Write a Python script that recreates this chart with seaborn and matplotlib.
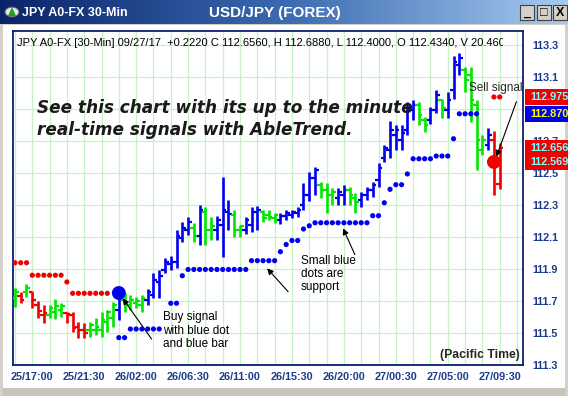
import numpy as np
import pandas as pd
import matplotlib
matplotlib.use("Agg")
import matplotlib.pyplot as plt
import seaborn as sns
from matplotlib.patches import Rectangle, Circle, Polygon
from matplotlib.colors import LinearSegmentedColormap
from matplotlib.transforms import Bbox

# ---- data: 30-min USD/JPY bars, bar 0 = 25/17:00 ----
bar_idx = list(range(-3, 82))
trend = ("GRGRRRGGGRRRR" "GGGGGBGGGG" "BBBBBBBBGB" "GGBBBGGBBB" "GGGBBBBBBB"
         "GGGBBGGBBB" "BBBBBBBGGB" "BGBBBGGGGB" "RR")
highs = [111.781, 111.756, 111.806, 111.763, 111.700, 111.675, 111.675, 111.713, 111.688, 111.631,
         111.631, 111.569, 111.563, 111.569, 111.594, 111.631, 111.644, 111.694, 111.750, 111.750,
         111.738, 111.725, 111.738, 111.775, 111.875, 111.894, 111.969, 111.981, 112.144, 112.194,
         112.225, 112.188, 112.300, 112.288, 112.225, 112.231, 112.475, 112.331, 112.269, 112.175,
         112.225, 112.288, 112.294, 112.269, 112.269, 112.250, 112.250, 112.269, 112.269, 112.288,
         112.438, 112.506, 112.538, 112.444, 112.438, 112.406, 112.406, 112.425, 112.413, 112.375,
         112.381, 112.413, 112.444, 112.563, 112.675, 112.825, 112.800, 112.800, 112.944, 112.956,
         112.944, 112.850, 112.913, 113.019, 112.963, 113.006, 113.231, 113.250, 113.163, 113.163,
         112.956, 112.738, 112.781, 112.763, 112.688]
lows = [111.663, 111.688, 111.725, 111.656, 111.594, 111.563, 111.594, 111.588, 111.600, 111.563,
        111.506, 111.469, 111.469, 111.475, 111.488, 111.475, 111.506, 111.538, 111.581, 111.631,
        111.644, 111.656, 111.631, 111.675, 111.719, 111.719, 111.875, 111.894, 111.906, 112.069,
        112.113, 112.069, 112.050, 112.050, 112.081, 112.081, 111.975, 112.144, 112.100, 112.100,
        112.119, 112.131, 112.144, 112.194, 112.206, 112.188, 112.181, 112.206, 112.219, 112.225,
        112.269, 112.325, 112.363, 112.344, 112.250, 112.300, 112.300, 112.300, 112.300, 112.250,
        112.288, 112.331, 112.350, 112.413, 112.569, 112.594, 112.644, 112.644, 112.738, 112.831,
        112.800, 112.756, 112.806, 112.875, 112.844, 112.844, 112.963, 113.113, 113.006, 112.819,
        112.519, 112.613, 112.644, 112.363, 112.400]
opens = [111.719, 111.731, 111.756, 111.756, 111.675, 111.613, 111.613, 111.631, 111.644, 111.625,
         111.613, 111.538, 111.519, 111.519, 111.519, 111.519, 111.569, 111.594, 111.644, 111.706,
         111.675, 111.688, 111.675, 111.706, 111.738, 111.819, 111.894, 111.931, 111.944, 112.094,
         112.144, 112.156, 112.106, 112.256, 112.144, 112.144, 112.175, 112.256, 112.238, 112.144,
         112.144, 112.175, 112.256, 112.256, 112.238, 112.219, 112.206, 112.231, 112.238, 112.250,
         112.300, 112.363, 112.469, 112.425, 112.394, 112.363, 112.344, 112.363, 112.394, 112.344,
         112.331, 112.363, 112.394, 112.456, 112.594, 112.644, 112.738, 112.706, 112.769, 112.894,
         112.925, 112.831, 112.831, 112.894, 112.956, 112.894, 113.019, 113.175, 113.144, 113.113,
         112.925, 112.644, 112.675, 112.706, 112.434]
closes = [111.756, 111.706, 111.781, 111.706, 111.638, 111.625, 111.656, 111.669, 111.669, 111.619,
          111.531, 111.519, 111.500, 111.550, 111.538, 111.581, 111.631, 111.675, 111.738, 111.688,
          111.706, 111.700, 111.719, 111.756, 111.831, 111.856, 111.944, 111.944, 112.106, 112.156,
          112.194, 112.106, 112.269, 112.144, 112.169, 112.206, 112.269, 112.244, 112.144, 112.169,
          112.206, 112.256, 112.269, 112.219, 112.225, 112.238, 112.231, 112.250, 112.256, 112.269,
          112.363, 112.469, 112.519, 112.394, 112.363, 112.381, 112.381, 112.394, 112.363, 112.319,
          112.363, 112.394, 112.425, 112.531, 112.656, 112.769, 112.769, 112.750, 112.894, 112.925,
          112.863, 112.800, 112.894, 112.988, 112.906, 112.956, 113.194, 113.219, 113.081, 112.956,
          112.706, 112.706, 112.738, 112.550, 112.656]

# resistance (red) and support (blue) dots
res_idx = [-3, -2, -1, 0, 1, 2, 3, 4, 5, 6, 7, 8, 9, 10, 11, 12, 13, 80, 81]
res_val = [111.939, 111.939, 111.939, 111.861, 111.861, 111.861, 111.861, 111.861, 111.861, 111.819,
           111.748, 111.748, 111.748, 111.748, 111.748, 111.748, 111.748, 112.975, 112.975]
sup_idx = [15, 16, 17, 18, 19, 20, 21, 22, 24, 25, 26,
           27, 28, 29, 30, 31, 32, 33, 34, 35, 36, 37,
           38, 39, 40, 41, 42, 43, 44, 45, 46, 47, 48,
           49, 50, 51, 52, 53, 54, 55, 56, 57, 58,
           59, 60, 61, 62, 63, 64, 65, 66, 67, 68, 69, 70, 71, 72, 73, 74, 75, 76, 77]
sup_val = [111.471, 111.471, 111.525, 111.525, 111.525, 111.525, 111.525, 111.525, 111.686, 111.686, 111.858,
           111.897, 111.897, 111.897, 111.897, 111.897, 111.897, 111.897, 111.897, 111.897, 111.897, 111.897,
           111.952, 111.952, 111.952, 111.952, 111.952, 112.008, 112.053, 112.078, 112.078, 112.150, 112.170,
           112.189, 112.189, 112.189, 112.189, 112.189, 112.189, 112.189, 112.189, 112.189, 112.189,
           112.233, 112.233, 112.314, 112.398, 112.427, 112.427, 112.494, 112.589, 112.589, 112.589, 112.589,
           112.606, 112.606, 112.606, 112.714, 112.870, 112.870, 112.870, 112.870]
signal_idx = [15, 80]
signal_val = [111.750, 112.569]
signal_kind = ["buy", "sell"]

tick_pos = [0, 9, 18, 27, 36, 45, 54, 63, 72, 81]
tick_labels = ["25/17:00", "25/21:30", "26/02:00", "26/06:30", "26/11:00",
               "26/15:30", "26/20:00", "27/00:30", "27/05:00", "27/09:30"]
y_ticks = [111.3, 111.5, 111.7, 111.9, 112.1, 112.3, 112.5, 112.7, 112.9, 113.1, 113.3]
# 112.9 sits fully behind the last-value boxes in the original
y_labels = ["111.3", "111.5", "111.7", "111.9", "112.1", "112.3", "112.5", "112.7", "", "113.1", "113.3"]
last_labels = [112.975, 112.870, 112.656, 112.569]
last_box = ["#f00000", "#0000f0", "#f00000", "#f00000"]
last_text = ["#80ffff", "#ffff00", "#80ffff", "#80ffff"]

colmap = {"G": "#00e600", "R": "#f00000", "B": "#0000f0"}
navy = "#0a1f6e"
lab_blue = "#1c3d8c"

sns.set_style("white")
plt.rcParams["font.family"] = ["Liberation Sans", "DejaVu Sans"]

W, H = 568, 396
fig = plt.figure(figsize=(W / 100, H / 100), dpi=100)
fig.patch.set_facecolor("#d4d0c8")


def fr(x, y, w, h):
    return [x / W, 1 - (y + h) / H, w / W, h / H]


# window body
fig.add_artist(Rectangle((3 / W, 1 - 388 / H), 562 / W, 363 / H, transform=fig.transFigure,
                         facecolor="white", edgecolor="none", zorder=-2))

# title bar
axt = fig.add_axes(fr(0, 0, W, 24))
cm = LinearSegmentedColormap.from_list("tb", ["#0a246a", "#3a6ab0", "#a6caf0"])
axt.imshow(np.linspace(0, 1, 256)[None, :], aspect="auto", cmap=cm, extent=[0, 1, 0, 1])
axt.set_axis_off()
fig.add_artist(Circle((12 / W, 1 - 12 / H), 7 / W, transform=fig.transFigure,
                      facecolor="#e8e8e8", edgecolor="#606060", lw=0.8))
fig.add_artist(Polygon([[8 / W, 1 - 16 / H], [16 / W, 1 - 16 / H], [12 / W, 1 - 7 / H]],
                       transform=fig.transFigure, facecolor="#20a020", edgecolor="none"))
fig.text(22 / W, 1 - 12.5 / H, "JPY A0-FX 30-Min", color="white", fontsize=9,
         fontweight="bold", va="center", ha="left")
fig.text(275 / W, 1 - 12.5 / H, "USD/JPY (FOREX)", color="white", fontsize=11,
         fontweight="bold", va="center", ha="center")
for bx, glyph in zip([520, 537, 553], ["_", "\u25a1", "X"]):
    fig.add_artist(Rectangle((bx / W, 1 - 20 / H), 14 / W, 15 / H, transform=fig.transFigure,
                             facecolor="#d4d0c8", edgecolor="#404040", lw=0.8))
    fig.text((bx + 7) / W, 1 - 12.5 / H, glyph, color="black", fontsize=9,
             fontweight="bold", va="center", ha="center")

# bottom scrollbar strip
fig.add_artist(Rectangle((3 / W, 0), 562 / W, 8 / H, transform=fig.transFigure,
                         facecolor="#c8c4bc", edgecolor="none", zorder=-1))

# main chart axes
ax = fig.add_axes([12.7 / W, (H - 365) / H, 510.6 / W, 334 / H])
ax.set_facecolor("white")
ax.set_xlim(-3.39, 85.09)
ax.set_ylim(111.3, 113.3875)

ax.set_xticks(tick_pos)
ax.set_xticklabels(tick_labels)
ax.set_xticks(list(range(-3, 85, 3)), minor=True)
ax.set_yticks(y_ticks)
ax.set_yticklabels(y_labels)
ax.yaxis.tick_right()
ax.grid(True, which="both", axis="x", color="#c6f3c6", lw=0.9)
ax.grid(True, which="major", axis="y", color="#c6f3c6", lw=0.9)
ax.set_axisbelow(True)
ax.tick_params(axis="x", which="both", direction="out", length=3.6, width=0.9,
               color=navy, pad=1.8, labelsize=7.8, labelcolor=lab_blue)
ax.tick_params(axis="y", length=0, pad=6.5, labelsize=7.8, labelcolor=lab_blue)
for lbl in ax.get_xticklabels() + ax.get_yticklabels():
    lbl.set_fontweight("bold")
for sp in ax.spines.values():
    sp.set_color(navy)
    sp.set_linewidth(1.3)

# OHLC bars
bars = pd.DataFrame({"i": bar_idx, "t": list(trend), "h": highs, "l": lows, "o": opens, "c": closes})
for t, g in bars.groupby("t"):
    col = colmap[t]
    ax.vlines(g["i"], g["l"], g["h"], color=col, lw=1.9, zorder=3)
    ax.hlines(g["o"], g["i"] - 0.62, g["i"], color=col, lw=1.6, zorder=3)
    ax.hlines(g["c"], g["i"], g["i"] + 0.62, color=col, lw=1.6, zorder=3)

# dots via seaborn
dots = pd.DataFrame({"i": res_idx + sup_idx, "v": res_val + sup_val,
                     "kind": ["res"] * len(res_idx) + ["sup"] * len(sup_idx)})
sns.scatterplot(data=dots, x="i", y="v", hue="kind", palette={"res": "#f00000", "sup": "#0000f0"},
                s=14, linewidth=0, legend=False, ax=ax, zorder=4)
sig = pd.DataFrame({"i": signal_idx, "v": signal_val, "kind": signal_kind})
sns.scatterplot(data=sig, x="i", y="v", hue="kind", palette={"buy": "#0000f0", "sell": "#f00000"},
                s=100, linewidth=0, legend=False, ax=ax, zorder=5)
ax.set_xlabel("")
ax.set_ylabel("")

# annotations
ann = dict(fontsize=8.5, color="black", va="top", ha="left", linespacing=1.15)
ax.text(22.6, 111.635, "Buy signal\nwith blue dot\nand blue bar", **ann)
ax.text(46.5, 111.99, "Small blue\ndots are\nsupport", **ann)
ax.text(75.7, 113.031, "Sell signal", fontsize=8.5, va="center", ha="left", clip_on=True)
arrow = dict(arrowstyle="-|>", color="black", lw=0.8, mutation_scale=9, shrinkA=0, shrinkB=0)
ax.annotate("", xy=(15.66, 111.717), xytext=(20.68, 111.462), arrowprops=arrow)
ax.annotate("", xy=(40.7, 111.904), xytext=(44.34, 111.758), arrowprops=arrow)
ax.annotate("", xy=(53.86, 112.154), xytext=(55.9, 111.99), arrowprops=arrow)
ax.annotate("", xy=(80.43, 112.602), xytext=(83.9, 112.946), arrowprops=arrow)
ax.text(0.9935, 0.03, "(Pacific Time)", transform=ax.transAxes, fontsize=8.8,
        fontweight="bold", ha="right", va="center")

promo = dict(fontsize=12.2, fontweight="bold", style="italic", family="DejaVu Sans",
             color="#1a1a1a", va="center", ha="left")
fig.text(37 / W, 1 - 108 / H, "See this chart with its up to the minute", **promo)
fig.text(37 / W, 1 - 130 / H, "real-time signals with AbleTrend.", **promo)

# header line (clipped like the original)
hdr = fig.text(17 / W, 1 - 42.7 / H,
               "JPY A0-FX [30-Min] 09/27/17  +0.2220 C 112.6560, H 112.6880, L 112.4000, O 112.4340, V 20.4600",
               fontsize=8.0, color="black", va="center", ha="left")
hdr.set_clip_box(Bbox.from_extents(0, 0, 503, H))
hdr.set_clip_on(True)

# last-value boxes on the price scale
trans = ax.get_yaxis_transform()
for val, bc, tc in zip(last_labels, last_box, last_text):
    ax.add_patch(Rectangle((1.004, val - 0.049), 0.09, 0.098, transform=trans,
                           facecolor=bc, edgecolor="none", clip_on=False, zorder=6))
    ax.text(1.014, val, f"{val:.3f}", transform=trans, color=tc, fontsize=7.8,
            fontweight="bold", va="center", ha="left", clip_on=False, zorder=7)

fig.savefig("out.png", dpi=100, facecolor=fig.get_facecolor())
